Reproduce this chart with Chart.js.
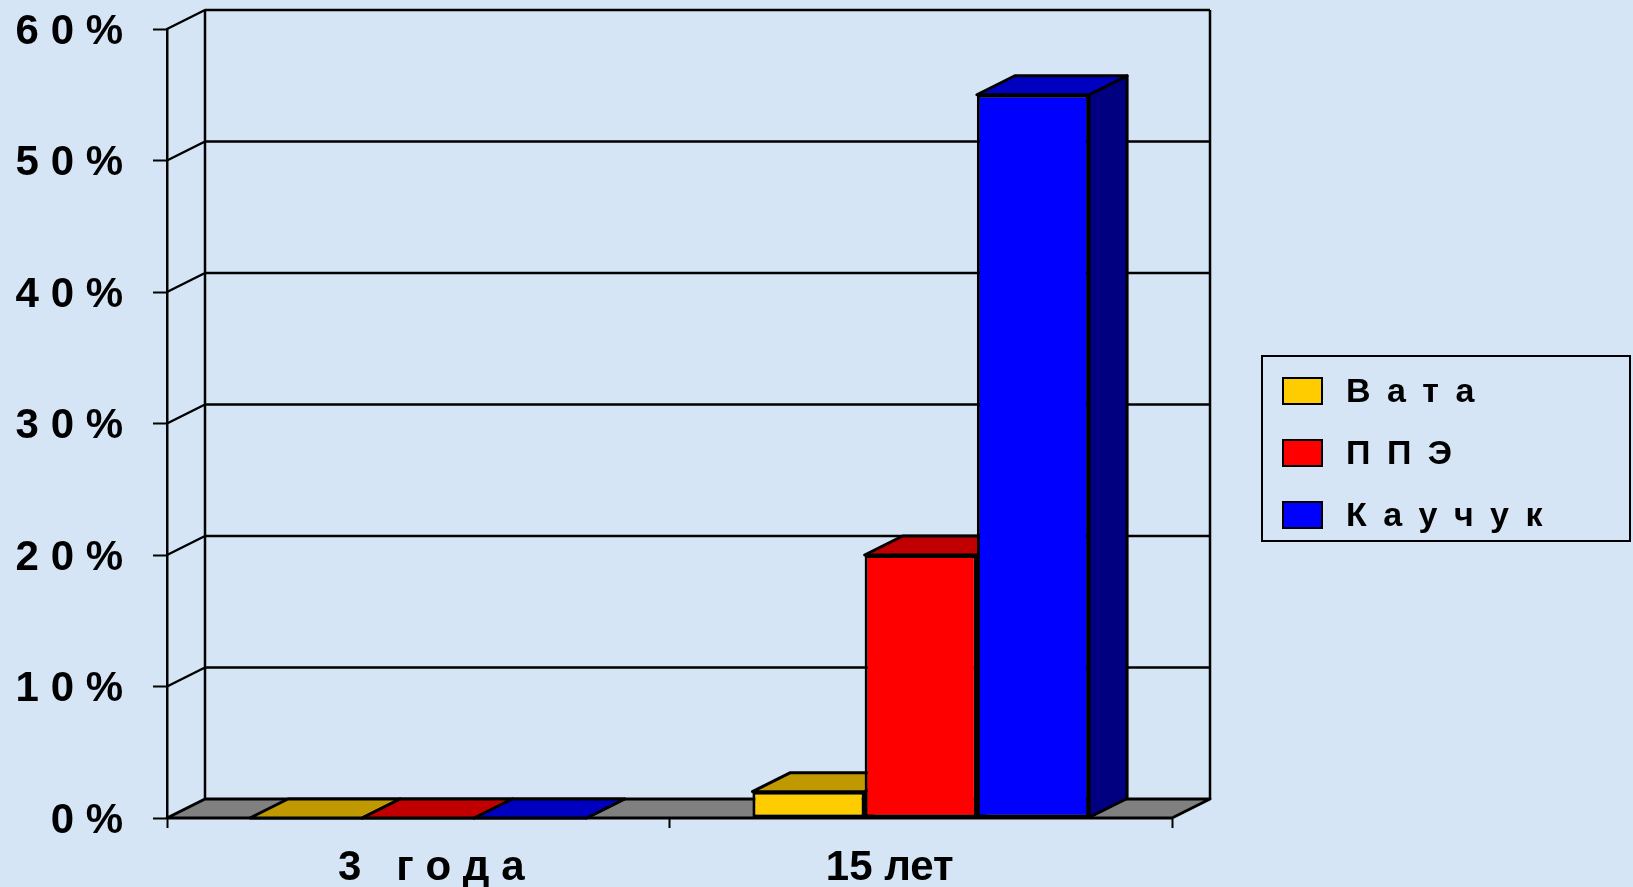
<!DOCTYPE html>
<html lang="ru">
<head>
<meta charset="utf-8">
<title>Вата / ППЭ / Каучук</title>
<script src="https://cdn.jsdelivr.net/npm/chart.js@4.4.1/dist/chart.umd.min.js"></script>
<style>
  html, body { margin: 0; padding: 0; background: #d5e5f5; }
  #wrap { width: 1633px; height: 887px; position: relative; }
</style>
</head>
<body>
<div id="wrap"><canvas id="chart"></canvas></div>
<script>
// --- data ---
const categories = ['3   г о д а', '15 лет'];
const seriesNames = ['В а т а', 'П П Э', 'К а у ч у к'];
const vata = [0, 2];
const ppe = [0, 20];
const kauchuk = [0, 55];
const yTicks = [0, 10, 20, 30, 40, 50, 60];

// front / top / side colours for each series
const palette = [
    { front: '#ffcc00', top: '#c09800', side: '#806600' },
    { front: '#ff0000', top: '#c00000', side: '#800000' },
    { front: '#0000ff', top: '#0000c0', side: '#000080' }
];

const FONT = "'Liberation Sans', Arial, sans-serif";
const DX = 38, DY = -19; // depth of the 3d box

function poly(ctx, pts, fill, lw) {
    ctx.beginPath();
    ctx.moveTo(pts[0][0], pts[0][1]);
    for (let i = 1; i < pts.length; i++) ctx.lineTo(pts[i][0], pts[i][1]);
    ctx.closePath();
    ctx.fillStyle = fill;
    ctx.fill();
    ctx.lineWidth = lw;
    ctx.strokeStyle = '#000';
    ctx.stroke();
}

const threeD = {
    id: 'threeD',
    beforeDatasetsDraw(chart) {
        const ctx = chart.ctx;
        const { left, right, bottom } = chart.chartArea;
        const ys = chart.scales.y;
        ctx.save();
        ctx.lineJoin = 'round';

        // back wall + side wall grid
        ctx.strokeStyle = '#000';
        ctx.lineWidth = 2.5;
        ctx.beginPath();
        yTicks.forEach(v => {
            if (v === 0) return;
            const y = ys.getPixelForValue(v);
            ctx.moveTo(left, y);
            ctx.lineTo(left + DX, y + DY);
            ctx.lineTo(right + DX, y + DY);
        });
        const topY = ys.getPixelForValue(yTicks[yTicks.length - 1]) + DY;
        ctx.moveTo(left + DX, topY);
        ctx.lineTo(left + DX, bottom + DY);
        ctx.moveTo(right + DX, topY);
        ctx.lineTo(right + DX, bottom + DY);
        ctx.stroke();

        // floor
        poly(ctx, [[left, bottom], [right, bottom], [right + DX, bottom + DY], [left + DX, bottom + DY]], '#808080', 3);

        // tops and sides of the bars (fronts are drawn by chart.js)
        chart.data.datasets.forEach((ds, i) => {
            const meta = chart.getDatasetMeta(i);
            const c = palette[i];
            meta.data.forEach(bar => {
                const p = bar.getProps(['x', 'y', 'base', 'width'], true);
                const l = p.x - p.width / 2, r = p.x + p.width / 2;
                poly(ctx, [[r, p.y], [r + DX, p.y + DY], [r + DX, p.base + DY], [r, p.base]], c.side, 3);
                poly(ctx, [[l, p.y], [r, p.y], [r + DX, p.y + DY], [l + DX, p.y + DY]], c.top, 3);
            });
        });
        ctx.restore();
    },
    afterDraw(chart) {
        const ctx = chart.ctx;
        const xs = chart.scales.x;
        ctx.save();
        ctx.fillStyle = '#000';

        // category labels
        const shift = [13, -31];
        ctx.font = 'bold 42px ' + FONT;
        ctx.textAlign = 'center';
        ctx.textBaseline = 'alphabetic';
        categories.forEach((c, i) => {
            ctx.fillText(c, xs.getPixelForValue(i) + shift[i], 880);
        });

        // legend
        ctx.lineWidth = 2;
        ctx.strokeStyle = '#000';
        ctx.strokeRect(1262, 356, 368, 185);
        ctx.font = 'bold 34px ' + FONT;
        ctx.textAlign = 'left';
        ctx.textBaseline = 'middle';
        ctx.letterSpacing = '3.5px';
        seriesNames.forEach((name, i) => {
            const cy = 391 + i * 62;
            ctx.fillStyle = palette[i].front;
            ctx.fillRect(1283, cy - 13, 39, 26);
            ctx.strokeRect(1283, cy - 13, 39, 26);
            ctx.fillStyle = '#000';
            ctx.fillText(name, 1346, cy + 2);
        });
        ctx.letterSpacing = '0px';
        ctx.restore();
    }
};

const seriesData = [vata, ppe, kauchuk];

new Chart(document.getElementById('chart'), {
    type: 'bar',
    data: {
        labels: categories,
        datasets: seriesData.map((d, i) => ({
            label: seriesNames[i],
            data: d,
            backgroundColor: palette[i].front,
            borderColor: '#000',
            borderWidth: 3,
            borderSkipped: false,
            categoryPercentage: 0.67,
            barPercentage: 1
        }))
    },
    options: {
        responsive: true,
        maintainAspectRatio: false,
        animation: false,
        layout: { padding: { left: 0, top: 29, right: 461, bottom: 0 } },
        plugins: { legend: { display: false }, tooltip: { enabled: false } },
        scales: {
            x: {
                offset: true,
                grid: { drawOnChartArea: false, tickLength: 10, tickColor: '#000', tickWidth: 2, offset: true },
                border: { color: '#000', width: 2 },
                ticks: { display: false },
                afterFit: s => { s.height = 69; s.paddingLeft = 0; s.paddingRight = 0; }
            },
            y: {
                min: 0,
                max: 60,
                afterBuildTicks: s => { s.ticks = yTicks.map(v => ({ value: v })); },
                grid: { drawOnChartArea: false, tickLength: 14, tickColor: '#000', tickWidth: 2 },
                border: { color: '#000', width: 2.5 },
                ticks: {
                    color: '#000',
                    padding: 30,
                    labelOffset: 3,
                    font: { family: FONT, size: 42, weight: 'bold' },
                    callback: v => String(v).split('').join(' ') + ' %'
                },
                afterFit: s => { s.width = 167; s.paddingTop = 0; s.paddingBottom = 0; }
            }
        }
    },
    plugins: [threeD]
});
</script>
</body>
</html>
